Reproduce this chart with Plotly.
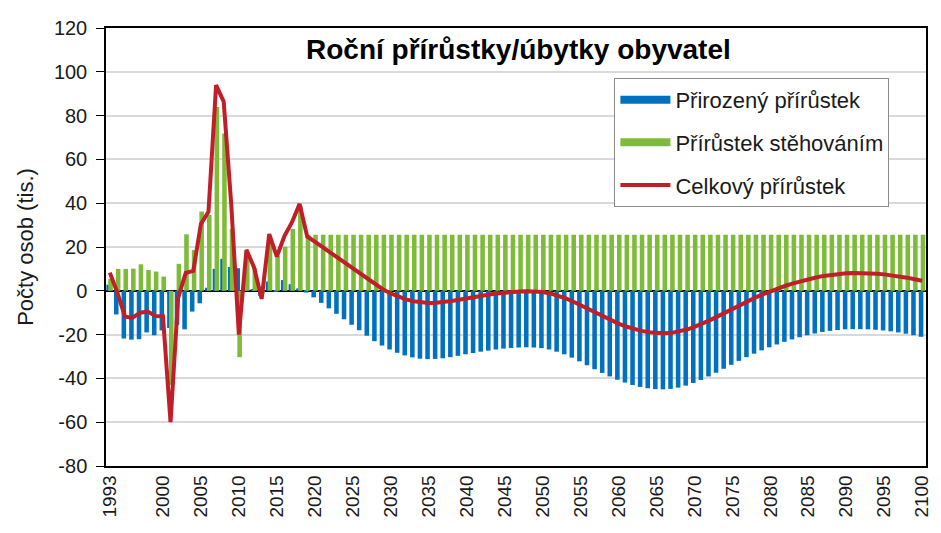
import plotly.graph_objs as go

years = list(range(1993, 2101))

# Přirozený přírůstek (tis.)
natural = [
    2.8, -10.8, -21.8, -22.3, -22.1, -19.0, -20.3, -18.1, -17.0, -15.5,
    -17.6, -9.5, -5.7, 1.4, 10.0, 14.6, 10.9, 10.3, 1.8, 0.4,
    -2.4, 4.2, -0.4, 4.9, 3.0, 1.1,
    -0.8, -3.0, -5.5, -8.0, -10.5, -13.0, -15.5, -18.0, -20.5, -23.0,
    -25.0, -26.8, -28.3, -29.5, -30.4, -31.0, -31.2, -31.1, -30.8, -30.3,
    -29.7, -29.0, -28.4, -27.8, -27.3, -26.8, -26.4, -26.1, -25.9, -25.8,
    -25.9, -26.2, -26.8, -27.8, -29.0, -30.5, -32.2, -34.0, -35.8, -37.5,
    -39.1, -40.6, -41.9, -43.0, -43.9, -44.5, -44.9, -45.0, -44.8, -44.2,
    -43.3, -42.1, -40.7, -39.1, -37.4, -35.6, -33.8, -32.0, -30.3, -28.7,
    -27.2, -25.8, -24.5, -23.3, -22.2, -21.2, -20.3, -19.5, -18.8, -18.3,
    -17.9, -17.6, -17.5, -17.5, -17.6, -17.8, -18.1, -18.5, -19.0, -19.6,
    -20.3, -21.0,
]

# Přírůstek stěhováním (tis.)
migration = [
    5.5, 10.0, 10.0, 10.1, 12.1, 9.5, 8.8, 6.5, -43.0, 12.3,
    25.8, 18.6, 36.2, 34.7, 83.9, 71.8, 28.3, -30.3, 16.9, 10.3,
    -1.3, 21.7, 16.0, 20.1, 28.3, 38.6,
    25.6, 25.6, 25.6, 25.6, 25.6, 25.6, 25.6, 25.6, 25.6, 25.6,
    25.6, 25.6, 25.6, 25.6, 25.6, 25.6, 25.6, 25.6, 25.6, 25.6,
    25.6, 25.6, 25.6, 25.6, 25.6, 25.6, 25.6, 25.6, 25.6, 25.6,
    25.6, 25.6, 25.6, 25.6, 25.6, 25.6, 25.6, 25.6, 25.6, 25.6,
    25.6, 25.6, 25.6, 25.6, 25.6, 25.6, 25.6, 25.6, 25.6, 25.6,
    25.6, 25.6, 25.6, 25.6, 25.6, 25.6, 25.6, 25.6, 25.6, 25.6,
    25.6, 25.6, 25.6, 25.6, 25.6, 25.6, 25.6, 25.6, 25.6, 25.6,
    25.6, 25.6, 25.6, 25.6, 25.6, 25.6, 25.6, 25.6, 25.6, 25.6,
    25.6, 25.6,
]

# Celkový přírůstek (tis.)
total = [
    8.3, -0.8, -11.8, -12.3, -10.0, -9.5, -11.5, -11.6, -60.0, -3.2,
    8.2, 9.1, 30.5, 36.1, 93.9, 86.4, 39.2, -20.0, 18.7, 10.7,
    -3.7, 25.9, 15.6, 25.0, 31.3, 39.7,
    24.8, 22.6, 20.1, 17.6, 15.1, 12.6, 10.1, 7.6, 5.1, 2.6,
    0.6, -1.2, -2.7, -3.9, -4.8, -5.4, -5.6, -5.5, -5.2, -4.7,
    -4.1, -3.4, -2.8, -2.2, -1.7, -1.2, -0.8, -0.5, -0.3, -0.2,
    -0.3, -0.6, -1.2, -2.2, -3.4, -4.9, -6.6, -8.4, -10.2, -11.9,
    -13.5, -15.0, -16.3, -17.4, -18.3, -18.9, -19.3, -19.4, -19.2, -18.6,
    -17.7, -16.5, -15.1, -13.5, -11.8, -10.0, -8.2, -6.4, -4.7, -3.1,
    -1.6, -0.2, 1.1, 2.3, 3.4, 4.4, 5.3, 6.1, 6.8, 7.3,
    7.7, 8.0, 8.1, 8.1, 8.0, 7.8, 7.5, 7.1, 6.6, 6.0,
    5.3, 4.6,
]

tick_years = [1993] + list(range(2000, 2101, 5))
y_ticks = [-80, -60, -40, -20, 0, 20, 40, 60, 80, 100, 120]

blue = '#0070c0'
green = '#7ebb38'
red = '#c01f29'
font = 'Liberation Sans, Arial, sans-serif'

fig = go.Figure()

fig.add_trace(
    go.Bar(
        x=years,
        y=natural,
        width=0.6,
        offset=-0.45,
        marker={'color': blue, 'line': {'width': 0}},
        name='Přirozený přírůstek',
        showlegend=False,
    )
)

fig.add_trace(
    go.Bar(
        x=years,
        y=migration,
        width=0.6,
        offset=-0.2,
        marker={'color': green, 'line': {'width': 0}},
        name='Přírůstek stěhováním',
        showlegend=False,
    )
)

fig.add_trace(
    go.Scatter(
        x=years,
        y=total,
        mode='lines',
        line=dict(color=red, width=4),
        name='Celkový přírůstek',
        showlegend=False,
    )
)

# legend entries drawn as thick line swatches like in the original
for name, color, width, grp in [
    ('Přirozený přírůstek', blue, 8, 'a'),
    ('Přírůstek stěhováním', green, 8, 'b'),
    ('Celkový přírůstek', red, 4, 'c'),
]:
    fig.add_trace(
        go.Scatter(
            x=[None],
            y=[None],
            mode='lines',
            line=dict(color=color, width=width),
            name=name,
            legendgroup=grp,
        )
    )

fig.add_annotation(
    text='<b>Roční přírůstky/úbytky obyvatel</b>',
    x=0.503,
    y=0.95,
    xref='paper',
    yref='paper',
    xanchor='center',
    yanchor='middle',
    showarrow=False,
    font=dict(size=28, color='#000000', family=font),
)

# page body adds an 8px offset, so the figure is a bit smaller than the window
fig.update_layout(
    width=933,
    height=525,
    margin=dict(l=98, r=9, t=15, b=67),
    paper_bgcolor='white',
    plot_bgcolor='white',
    barmode='overlay',
    font=dict(family=font, color='#1a1a1a'),
    xaxis=dict(
        range=[1992.5, 2100.5],
        tickvals=tick_years,
        ticktext=[str(y) for y in tick_years],
        tickangle=-90,
        tickfont_size=19,
        showgrid=False,
        zeroline=False,
        showline=True,
        linecolor='#000000',
        linewidth=1.5,
        mirror=True,
        ticks='',
    ),
    yaxis=dict(
        range=[-80, 120],
        tickvals=y_ticks,
        ticktext=[str(v) for v in y_ticks],
        tickfont_size=20,
        showgrid=True,
        gridcolor='#d9d9d9',
        gridwidth=1.5,
        zeroline=True,
        zerolinecolor='#000000',
        zerolinewidth=1.5,
        showline=True,
        linecolor='#000000',
        linewidth=1.5,
        mirror=True,
        ticks='outside',
        ticklen=8,
        tickcolor='#000000',
        ticklabelstandoff=5,
        title=dict(text='Počty osob (tis.)', font_size=22, standoff=14),
    ),
    legend=dict(
        x=0.62,
        y=0.886,
        xanchor='left',
        yanchor='top',
        bgcolor='white',
        bordercolor='#8c8c8c',
        borderwidth=1,
        font=dict(size=22, color='#1a1a1a'),
        tracegroupgap=11,
        itemwidth=50,
    ),
)

fig.write_html("out.html")
